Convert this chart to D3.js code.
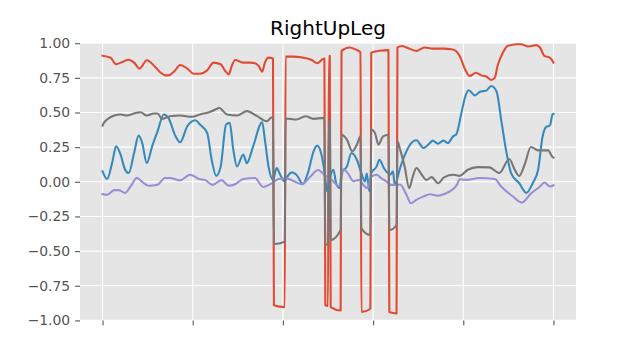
<!DOCTYPE html>
<html>
<head>
<meta charset="utf-8">
<script src="https://cdn.jsdelivr.net/npm/d3@7"></script>
<style>
html,body{margin:0;padding:0;background:#fff;}
svg{display:block;font-family:"DejaVu Sans",sans-serif;}
</style>
</head>
<body>
<svg id="chart" width="640" height="360"></svg>
<script>
const title = "RightUpLeg";
const yTicks = [-1, -0.75, -0.5, -0.25, 0, 0.25, 0.5, 0.75, 1];
const xTicks = [0, 100, 200, 300, 400, 500];
const seriesNames = ["w", "x", "y", "z"];
const seriesColors = ["#E24A33", "#348ABD", "#988ED5", "#777777"];

const redFrames = [0,9,15,22,29,35,41,49,59,64,70,73,80,86,94,101,108,116,123,131,136,140,143,147,156,164,169,173,177,180,184,189,190,202,203,212,226,232,238,243,246,247,250,251,252,253,264,265,274,280,286,287,297,298,307,317,318,326,327,332,337,348,357,366,378,387,392,396,402,407,414,420,426,431,435,438,444,449,459,464,472,481,485,490,496,500];
const redValues = [0.91,0.895,0.848,0.865,0.88,0.86,0.817,0.877,0.824,0.79,0.768,0.768,0.80,0.843,0.817,0.78,0.78,0.804,0.86,0.848,0.80,0.775,0.83,0.879,0.86,0.86,0.855,0.836,0.795,0.86,0.896,0.89,-0.891,-0.904,0.903,0.903,0.891,0.879,0.855,0.879,0.89,-0.891,-0.895,0.908,0.908,-0.904,-0.928,0.944,0.969,0.957,0.935,-0.94,-0.916,0.932,0.945,0.95,-0.94,-0.95,0.969,0.98,0.969,0.944,0.969,0.961,0.961,0.957,0.944,0.908,0.812,0.763,0.787,0.768,0.758,0.734,0.751,0.836,0.932,0.98,0.993,0.993,0.976,0.986,0.969,0.908,0.896,0.86];

const blueFrames = [0,5,11,15,20,25,29,35,40,44,49,55,61,68,73,81,86,94,103,108,116,121,126,131,137,141,145,149,156,160,167,177,180,184,189,193,197,202,204,210,215,222,228,234,238,243,247,249,252,256,259,263,265,271,276,282,287,291,293,296,298,304,307,312,319,322,324,330,335,341,348,356,363,366,372,378,383,389,392,398,402,406,413,418,426,431,437,442,448,453,462,470,477,483,488,492,496,499,500];
const blueValues = [0.075,0.02,0.147,0.256,0.196,0.087,0.063,0.208,0.333,0.28,0.135,0.256,0.364,0.486,0.461,0.328,0.285,0.401,0.444,0.413,0.353,0.159,0.043,0.111,0.413,0.425,0.232,0.111,0.196,0.135,0.256,0.43,0.304,0.111,0.014,0.099,0.051,0.002,0.027,0.068,0.051,-0.015,0.07,0.22,0.261,0.19,0.027,-0.07,0.027,0.087,-0.01,-0.046,0.063,0.111,0.208,0.159,0.063,0.002,0.06,-0.07,0.063,0.111,0.159,0.099,0.051,0.075,-0.022,0.1,0.19,0.268,0.3,0.244,0.28,0.297,0.275,0.297,0.28,0.33,0.34,0.498,0.61,0.66,0.623,0.648,0.66,0.691,0.65,0.449,0.208,0.063,-0.01,-0.08,-0.01,0.087,0.328,0.396,0.406,0.486,0.49];

const purpleFrames = [0,5,13,18,25,31,38,44,51,61,69,75,86,97,107,114,122,132,140,147,156,169,178,188,195,204,213,221,230,239,247,254,263,267,272,278,285,289,294,298,304,309,315,320,324,330,337,342,348,356,363,372,381,385,393,396,403,418,435,442,455,465,475,485,490,496,500];
const purpleValues = [-0.089,-0.094,-0.06,-0.06,-0.08,-0.034,0.027,0.0,-0.029,-0.022,0.027,0.027,0.01,0.051,0.02,0.012,-0.022,0.012,-0.029,-0.018,0.02,0.027,-0.036,-0.01,0.02,0.025,0.002,-0.018,0.035,0.085,0.045,0.014,-0.034,0.09,0.063,0.005,0.014,-0.022,-0.046,0.038,0.051,0.027,0.002,-0.022,-0.022,-0.02,-0.094,-0.155,-0.13,-0.105,-0.09,-0.1,-0.082,-0.07,-0.022,0.018,0.014,0.027,0.02,-0.034,-0.106,-0.15,-0.085,-0.034,-0.005,-0.034,-0.025];

const grayFrames = [0,2,5,13,20,27,35,42,49,57,61,66,75,86,99,108,118,127,129,138,149,160,171,182,188,189,190,202,203,215,225,234,245,246,247,250,251,252,253,264,265,271,277,282,286,287,297,298,302,306,311,317,318,326,327,330,335,340,344,348,354,359,365,372,379,389,396,405,416,429,440,451,457,462,468,475,483,494,499,500];
const grayValues = [0.406,0.43,0.449,0.478,0.486,0.478,0.493,0.502,0.478,0.493,0.493,0.454,0.473,0.478,0.469,0.486,0.502,0.527,0.534,0.486,0.478,0.51,0.476,0.437,0.466,0.466,-0.449,-0.432,0.457,0.449,0.473,0.454,0.461,0.46,-0.455,-0.45,0.444,0.44,-0.42,-0.348,0.34,0.304,0.22,0.268,0.328,-0.336,-0.384,0.377,0.353,0.268,0.328,0.34,-0.348,-0.312,0.292,0.232,0.11,-0.046,0.038,0.1,0.051,0.014,0.034,-0.01,0.034,0.051,0.043,0.087,0.106,0.104,0.063,0.164,0.087,0.043,0.123,0.251,0.227,0.227,0.179,0.175];

const series = [
  {frames: redFrames, values: redValues},
  {frames: blueFrames, values: blueValues},
  {frames: purpleFrames, values: purpleValues},
  {frames: grayFrames, values: grayValues}
];

const W = 640, H = 360;
const m = {left: 80, right: 576, top: 43.2, bottom: 320.4};
const svg = d3.select("#chart");

const x = d3.scaleLinear().domain([-25, 525]).range([m.left, m.right]);
const y = d3.scaleLinear().domain([-1, 1]).range([m.bottom, m.top]);

svg.append("rect").attr("x", m.left).attr("y", m.top)
  .attr("width", m.right - m.left).attr("height", m.bottom - m.top)
  .attr("fill", "#E5E5E5");

// grid
const grid = svg.append("g");
grid.selectAll("line.gy").data(yTicks).join("line")
  .attr("x1", m.left).attr("x2", m.right)
  .attr("y1", d => y(d)).attr("y2", d => y(d))
  .attr("stroke", "#fff").attr("stroke-width", 1.1);
grid.selectAll("line.gx").data(xTicks).join("line")
  .attr("y1", m.top).attr("y2", m.bottom)
  .attr("x1", d => x(d)).attr("x2", d => x(d))
  .attr("stroke", "#fff").attr("stroke-width", 1.1);

// axes
const fmt = d => (d < 0 ? "\u2212" : "") + Math.abs(d).toFixed(2);
const yAxis = d3.axisLeft(y).tickValues(yTicks).tickFormat(fmt).tickSize(4.9).tickPadding(4.9);
const xAxis = d3.axisBottom(x).tickValues(xTicks).tickFormat("").tickSize(4.9);

const gy = svg.append("g").attr("transform", `translate(${m.left},0)`).call(yAxis);
const gx = svg.append("g").attr("transform", `translate(0,${m.bottom})`).call(xAxis);
[gx, gy].forEach(g => {
  g.select(".domain").remove();
  g.selectAll(".tick line").attr("stroke", "#555555").attr("stroke-width", 1.1);
  g.selectAll(".tick text").attr("fill", "#555555")
    .style("font-family", '"DejaVu Sans", sans-serif').style("font-size", "13.9px");
});

// lines
const line = d3.line().curve(d3.curveMonotoneX).x(d => x(d[0])).y(d => y(d[1]));
const lg = svg.append("g");
series.forEach((s, i) => {
  const pts = s.frames.map((f, j) => [f, s.values[j]]);
  lg.append("path").datum(pts)
    .attr("d", line)
    .attr("fill", "none")
    .attr("stroke", seriesColors[i])
    .attr("stroke-width", 2.08)
    .attr("stroke-linejoin", "round")
    .attr("stroke-linecap", "square");
});

svg.append("text").attr("x", (m.left + m.right) / 2).attr("y", m.top - 8.3)
  .attr("text-anchor", "middle").attr("fill", "#000")
  .style("font-size", "20px").text(title);
</script>
</body>
</html>
